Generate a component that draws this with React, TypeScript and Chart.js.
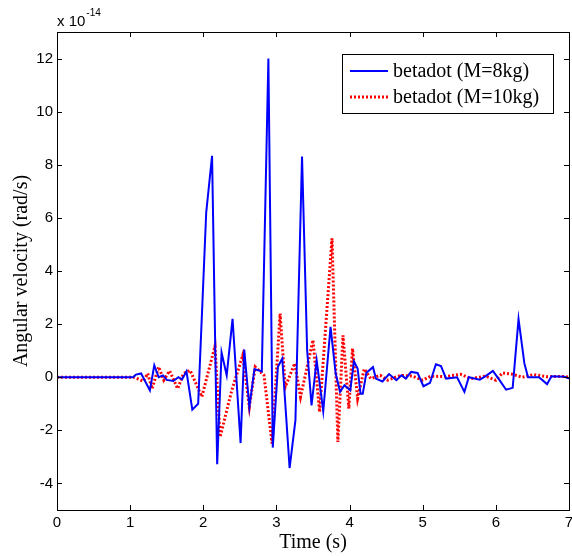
import React, { useEffect, useRef } from "react";
import { Chart, registerables } from "chart.js";

Chart.register(...registerables);

// ---- data (values x 1e-14 rad/s) ----
const timeM8 = [0, 1.04, 1.08, 1.15, 1.27, 1.33, 1.39, 1.45, 1.5, 1.59, 1.66, 1.71, 1.77, 1.85, 1.93, 2.04, 2.12, 2.19, 2.25, 2.32, 2.4, 2.51, 2.56, 2.63, 2.7, 2.8, 2.89, 2.95, 3.02, 3.08, 3.18, 3.26, 3.35, 3.42, 3.48, 3.55, 3.64, 3.74, 3.81, 3.87, 3.93, 4.01, 4.06, 4.11, 4.15, 4.18, 4.23, 4.32, 4.36, 4.45, 4.54, 4.64, 4.71, 4.77, 4.84, 4.93, 5.01, 5.1, 5.18, 5.25, 5.32, 5.47, 5.57, 5.63, 5.78, 5.86, 5.96, 6.05, 6.14, 6.23, 6.31, 6.39, 6.44, 6.59, 6.7, 6.76, 6.94, 7.0];
const valuesM8 = [0, 0, 0.1, 0.14, -0.5, 0.45, 0, 0.07, -0.1, -0.14, 0, -0.08, 0.22, -1.22, -1.0, 6.2, 8.34, -3.28, 0.93, 0.07, 2.2, -2.48, 1.04, -1.12, 0.31, 0.22, 12.0, -2.65, 0.39, 0.7, -3.42, -1.62, 8.31, 1.02, -1.06, 0.64, -1.28, 1.9, 0.14, -0.55, -0.3, -0.49, 0.6, 0.33, -0.62, -0.62, 0.17, 0.38, -0.05, -0.16, 0.12, -0.11, 0.07, -0.05, 0.2, 0.16, -0.34, -0.21, 0.49, 0.42, -0.05, 0, -0.55, 0, -0.09, 0.04, 0.24, -0.11, -0.47, -0.4, 2.19, 0.52, 0, 0, -0.26, 0.04, 0.02, -0.05];

const timeM10 = [0, 1.05, 1.18, 1.24, 1.3, 1.39, 1.46, 1.54, 1.65, 1.73, 1.82, 1.98, 2.16, 2.23, 2.39, 2.54, 2.63, 2.71, 2.83, 2.94, 3.05, 3.12, 3.25, 3.33, 3.5, 3.59, 3.76, 3.84, 3.91, 3.99, 4.04, 4.11, 4.2, 4.29, 4.42, 4.52, 4.7, 4.86, 5.0, 5.11, 5.3, 5.52, 5.66, 5.86, 6.0, 6.09, 6.23, 6.36, 6.52, 6.7, 6.94, 7.0];
const valuesM10 = [0, 0, -0.15, 0.14, -0.43, 0.39, -0.11, 0.24, -0.43, 0.14, 0.26, -0.74, 1.17, -2.25, -0.49, 0.83, -1.12, 0.39, 0.07, -2.5, 2.4, -0.37, 0.52, -0.74, 1.4, -1.31, 5.23, -2.44, 1.58, -1.18, 1.08, -0.8, 0.31, -0.05, 0.07, -0.11, 0.07, 0.04, -0.11, 0.04, 0.02, 0.11, -0.05, 0.04, -0.11, 0.16, 0.11, 0, 0.1, 0.02, 0.03, 0];

const seriesLabels = ["betadot (M=8kg)", "betadot (M=10kg)"];
const xTicks = [0, 1, 2, 3, 4, 5, 6, 7];
const yTicks = [-4, -2, 0, 2, 4, 6, 8, 10, 12];
const xTitle = "Time (s)";
const yTitle = "Angular velocity (rad/s)";
const exponentBase = "x 10";
const exponentPower = "-14";

const SANS = "Arial, 'Liberation Sans', sans-serif";
const SERIF = "'Times New Roman', 'Liberation Serif', serif";

const framePlugin = {
  id: "matlabFrame",
  afterDraw(chart: any) {
    const { ctx, chartArea, scales } = chart;
    const { left, right, top, bottom } = chartArea;
    const x = scales.x;
    const y = scales.y;
    ctx.save();
    ctx.strokeStyle = "#000";
    ctx.lineWidth = 1;
    ctx.strokeRect(Math.round(left) + 0.5, Math.round(top) + 0.5, Math.round(right - left), Math.round(bottom - top));
    const tl = 5;
    ctx.beginPath();
    xTicks.forEach((v) => {
      const px = Math.round(x.getPixelForValue(v)) + 0.5;
      ctx.moveTo(px, bottom);
      ctx.lineTo(px, bottom - tl);
      ctx.moveTo(px, top);
      ctx.lineTo(px, top + tl);
    });
    yTicks.forEach((v) => {
      const py = Math.round(y.getPixelForValue(v)) + 0.5;
      ctx.moveTo(left, py);
      ctx.lineTo(left + tl, py);
      ctx.moveTo(right, py);
      ctx.lineTo(right - tl, py);
    });
    ctx.stroke();

    // exponent label
    ctx.fillStyle = "#000";
    ctx.textBaseline = "alphabetic";
    ctx.textAlign = "left";
    ctx.font = `15px ${SANS}`;
    ctx.fillText(exponentBase, left, top - 6);
    const w = ctx.measureText(exponentBase).width;
    ctx.font = `10px ${SANS}`;
    ctx.fillText(exponentPower, left + w + 1, top - 16);

    // legend
    const bx = 342, by = 54, bw = 211, bh = 59;
    ctx.fillStyle = "#fff";
    ctx.fillRect(bx, by, bw, bh);
    ctx.strokeStyle = "#000";
    ctx.lineWidth = 1;
    ctx.strokeRect(bx + 0.5, by + 0.5, bw, bh);
    const rows = [71, 97];
    chart.data.datasets.forEach((ds: any, i: number) => {
      ctx.save();
      ctx.strokeStyle = ds.borderColor;
      ctx.lineWidth = ds.borderWidth;
      ctx.setLineDash(ds.borderDash || []);
      ctx.beginPath();
      ctx.moveTo(350, rows[i]);
      ctx.lineTo(388, rows[i]);
      ctx.stroke();
      ctx.restore();
      ctx.fillStyle = "#000";
      ctx.font = `20px ${SERIF}`;
      ctx.textBaseline = "middle";
      ctx.textAlign = "left";
      ctx.fillText(ds.label, 393, rows[i] + 1);
    });
    ctx.restore();
  },
};

export default function App() {
  const ref = useRef<HTMLCanvasElement | null>(null);
  useEffect(() => {
    if (!ref.current) return;
    const chart = new Chart(ref.current, {
      type: "line",
      data: {
        datasets: [
          {
            label: seriesLabels[0],
            data: timeM8.map((t, i) => ({ x: t, y: valuesM8[i] })),
            borderColor: "#0000ff",
            borderWidth: 2,
            pointRadius: 0,
            tension: 0,
            fill: false,
          },
          {
            label: seriesLabels[1],
            data: timeM10.map((t, i) => ({ x: t, y: valuesM10[i] })),
            borderColor: "#ff0000",
            borderWidth: 3,
            borderDash: [2, 2],
            pointRadius: 0,
            tension: 0,
            fill: false,
          },
        ],
      },
      options: {
        animation: false,
        responsive: false,
        maintainAspectRatio: false,
        layout: { padding: { top: 32, right: 3, left: 0, bottom: 0 } },
        plugins: { legend: { display: false }, tooltip: { enabled: false } },
        scales: {
          x: {
            type: "linear",
            min: 0,
            max: 7,
            afterBuildTicks: (s: any) => {
              s.ticks = xTicks.map((v) => ({ value: v }));
            },
            afterFit: (s: any) => {
              s.height = 46;
              s.paddingLeft = 0;
              s.paddingRight = 0;
            },
            grid: { display: false, drawTicks: false },
            border: { display: false },
            ticks: { color: "#000", font: { size: 15, family: SANS }, padding: 4, maxRotation: 0, autoSkip: false },
            title: { display: true, text: xTitle, color: "#000", font: { size: 20, family: SERIF }, padding: { top: 1, bottom: 1 } },
          },
          y: {
            type: "linear",
            min: -5,
            max: 13,
            afterBuildTicks: (s: any) => {
              s.ticks = yTicks.map((v) => ({ value: v }));
            },
            afterFit: (s: any) => {
              s.width = 57;
              s.paddingTop = 0;
              s.paddingBottom = 0;
            },
            grid: { display: false, drawTicks: false },
            border: { display: false },
            ticks: { color: "#000", font: { size: 15, family: SANS }, padding: 4, autoSkip: false },
            title: { display: true, text: yTitle, color: "#000", font: { size: 20, family: SERIF }, padding: { top: 10, bottom: 10 } },
          },
        },
      },
      plugins: [framePlugin],
    } as any);
    return () => chart.destroy();
  }, []);
  return (
    <div style={{ position: "absolute", left: 0, top: 0, width: 572, height: 556, background: "#fff" }}>
      <canvas ref={ref} width={572} height={556} style={{ width: 572, height: 556, display: "block" }} />
    </div>
  );
}
